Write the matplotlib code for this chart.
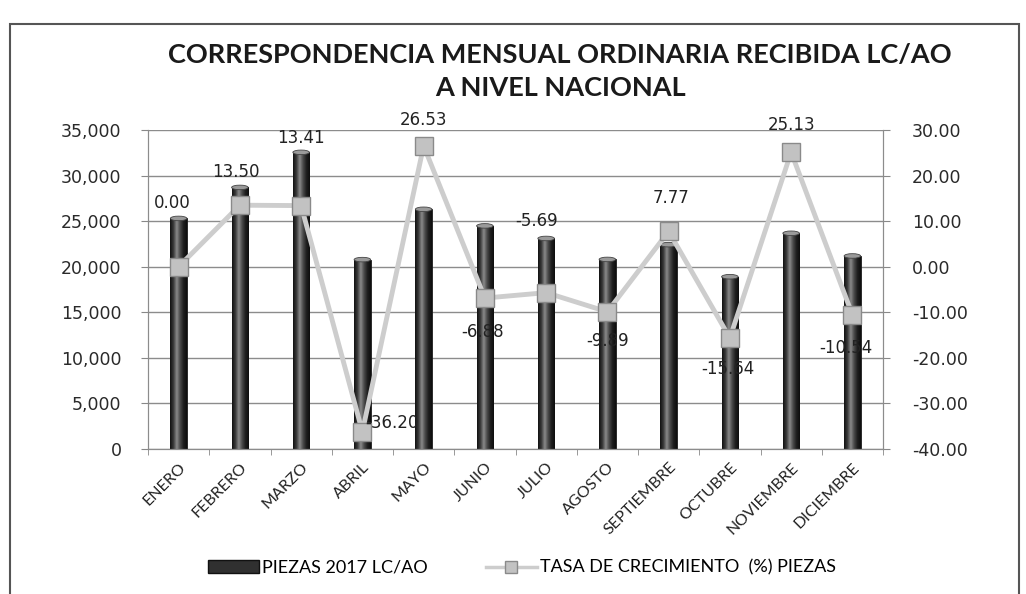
import numpy as np
import matplotlib
matplotlib.use("Agg")
import matplotlib.pyplot as plt
from matplotlib.patches import Rectangle, Ellipse
from matplotlib.colors import LinearSegmentedColormap
from matplotlib.lines import Line2D
from matplotlib.ticker import FuncFormatter, MultipleLocator

months = ["ENERO", "FEBRERO", "MARZO", "ABRIL", "MAYO", "JUNIO", "JULIO",
          "AGOSTO", "SEPTIEMBRE", "OCTUBRE", "NOVIEMBRE", "DICIEMBRE"]
piezas = [25300, 28700, 32550, 20780, 26300, 24480, 23100, 20800, 22420, 18900, 23670, 21180]
tasa = [0.00, 13.50, 13.41, -36.20, 26.53, -6.88, -5.69, -9.89, 7.77, -15.64, 25.13, -10.54]
bar_label = "PIEZAS 2017 LC/AO"
line_label = "TASA DE CRECIMIENTO  (%) PIEZAS"
title1 = "CORRESPONDENCIA MENSUAL ORDINARIA RECIBIDA LC/AO"
title2 = "A NIVEL NACIONAL"

# label offsets in pixels (style only)
label_offsets = [(-6, 64), (-4, 33), (0, 68), (30, 9), (0, 26), (-2, -34),
                 (-10, 72), (0, -29), (2, 33), (-2, -31), (0, 27), (-6, -33)]

W, H = 1026, 594
fig = plt.figure(figsize=(W / 100, H / 100), dpi=100)
fig.patch.set_facecolor("white")
ax = fig.add_axes([148 / W, 1 - 449 / H, (883 - 148) / W, (449 - 130) / H])
ax2 = ax.twinx()

x = np.arange(len(months))
bw = 0.27
bars = ax.bar(x, piezas, width=bw, color="#303030", edgecolor="#1a1a1a", lw=0.6, zorder=2)

cmap = LinearSegmentedColormap.from_list(
    "cyl", ["#111111", "#3a3a3a", "#8a8a8a", "#4a4a4a", "#1e1e1e", "#0e0e0e"])
grad = np.linspace(0, 1, 64).reshape(1, -1)
for b in bars:
    x0, w, h = b.get_x(), b.get_width(), b.get_height()
    im = ax.imshow(grad, extent=[x0, x0 + w, 0, h], aspect="auto", cmap=cmap,
                   zorder=2.5, interpolation="bilinear")
    im.set_clip_path(b)
    ax.add_patch(Ellipse((x0 + w / 2, h), w, 500, facecolor="#9a9a9a",
                         edgecolor="#444444", lw=0.6, zorder=2.6))

ax.set_xlim(-0.5, len(months) - 0.5)
ax.set_ylim(0, 35000)
ax.yaxis.set_major_locator(MultipleLocator(5000))
ax.yaxis.set_major_formatter(FuncFormatter(lambda v, p: f"{int(v):,}"))
ax.grid(axis="y", color="#8c8c8c", lw=1.0, zorder=0)
ax.set_axisbelow(True)

ax2.plot(x, tasa, color="#cdcdcd", lw=3.5, zorder=3,
         marker="s", markersize=13, markerfacecolor="#c2c2c2",
         markeredgecolor="#8a8a8a", markeredgewidth=1.0)
ax2.set_ylim(-40, 30)
ax2.yaxis.set_major_locator(MultipleLocator(10))
ax2.yaxis.set_major_formatter(FuncFormatter(lambda v, p: f"{v:.2f}"))

for i, (v, off) in enumerate(zip(tasa, label_offsets)):
    ax2.annotate(f"{v:.2f}", (x[i], v), xytext=off, textcoords="offset pixels",
                 ha="center", va="center", fontsize=12, color="#222222",
                 family="DejaVu Sans", zorder=5)

ax.set_xticks(x)
ax.set_xticklabels(months, rotation=45, ha="right", rotation_mode="anchor",
                   family="Lato", fontsize=11.5, color="#222222")
ax.tick_params(axis="x", length=0, pad=8)
ax.set_xticks(np.arange(-0.5, len(months), 1), minor=True)
ax.tick_params(axis="x", which="minor", length=4, direction="out", color="#888888")
ax.tick_params(axis="y", labelsize=12.5, length=5, pad=14, color="#888888", labelcolor="#2a2a2a")
ax2.tick_params(axis="y", labelsize=12.5, length=5, pad=16, color="#888888", labelcolor="#2a2a2a")
for t in ax.get_yticklabels() + ax2.get_yticklabels():
    t.set_family("DejaVu Sans")

for a in (ax, ax2):
    a.spines["top"].set_visible(False)
    for s in ("left", "right", "bottom"):
        a.spines[s].set_color("#8c8c8c")
ax.patch.set_alpha(0)

fig.text(0.546, 0.907, title1, ha="center", va="center", family="Lato",
         fontweight="bold", fontsize=19.5, color="#1a1a1a")
fig.text(0.546, 0.852, title2, ha="center", va="center", family="Lato",
         fontweight="bold", fontsize=19.5, color="#1a1a1a")

handles = [Rectangle((0, 0), 1, 1, facecolor="#303030", edgecolor="#111111"),
           Line2D([], [], color="#cdcdcd", lw=2.5, marker="s", markersize=8,
                  markerfacecolor="#c2c2c2", markeredgecolor="#8a8a8a")]
leg = fig.legend(handles, [bar_label, line_label], loc="center",
                 bbox_to_anchor=(0.509, 0.044), ncol=2, frameon=False,
                 prop={"family": "Lato", "size": 13}, columnspacing=3.2,
                 handlelength=2.8, handletextpad=0.2)

fig.patches.append(Rectangle((10 / W, -0.05), (1019 - 10) / W, 1.03 - 12 / H + 0.0,
                             transform=fig.transFigure, fill=False,
                             edgecolor="#555555", lw=1.5))

fig.savefig("out.png", dpi=100, facecolor="white")
